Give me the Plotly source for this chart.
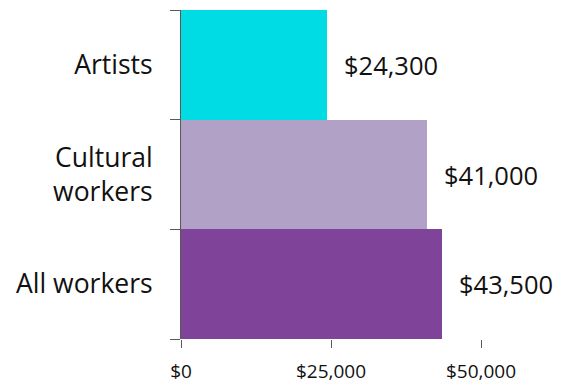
import plotly.graph_objects as go

# Median earnings by group
categories = ["All workers", "Cultural<br>workers", "Artists"]
earnings = [43500, 41000, 24300]
bar_colors = ["#7F4499", "#B2A1C7", "#00DCE4"]
tick_values = [0, 25000, 50000]

FONT = "Segoe UI, Open Sans, sans-serif"

fig = go.Figure(
    go.Bar(
        y=categories,
        x=earnings,
        orientation="h",
        width=1.0,
        marker=dict(color=bar_colors, line=dict(width=0)),
        hoverinfo="skip",
    )
)

# Value labels placed just past the end of each bar
for cat, val in zip(categories, earnings):
    fig.add_annotation(
        x=val, y=cat,
        text=f"${val:,}",
        showarrow=False,
        xanchor="left",
        yanchor="middle",
        xshift=15,
        font=dict(family=FONT, size=25.5, color="#111111"),
    )

fig.update_layout(
    width=565,
    height=384,
    margin=dict(l=181, r=84, t=10, b=45, autoexpand=False),
    paper_bgcolor="white",
    plot_bgcolor="white",
    showlegend=False,
    bargap=0,
    font=dict(family=FONT, color="#111111"),
)

fig.update_xaxes(
    range=[0, 50000],
    tickvals=tick_values,
    ticktext=[f"${v:,}" for v in tick_values],
    showline=False,
    showgrid=False,
    zeroline=False,
    ticks="outside",
    ticklen=8,
    tickcolor="#595959",
    tickfont=dict(family=FONT, size=19, color="#111111"),
    ticklabelstandoff=7,
    automargin=False,
    fixedrange=True,
)

fig.update_yaxes(
    type="category",
    categoryorder="array",
    categoryarray=categories,
    showline=True,
    linecolor="#595959",
    linewidth=1,
    showgrid=False,
    zeroline=False,
    ticks="outside",
    tickson="boundaries",
    ticklen=10,
    tickcolor="#595959",
    tickfont=dict(family=FONT, size=26.5, color="#111111"),
    ticklabelstandoff=22,
    automargin=False,
    fixedrange=True,
)

fig.write_html("out.html", config={"displayModeBar": False})
